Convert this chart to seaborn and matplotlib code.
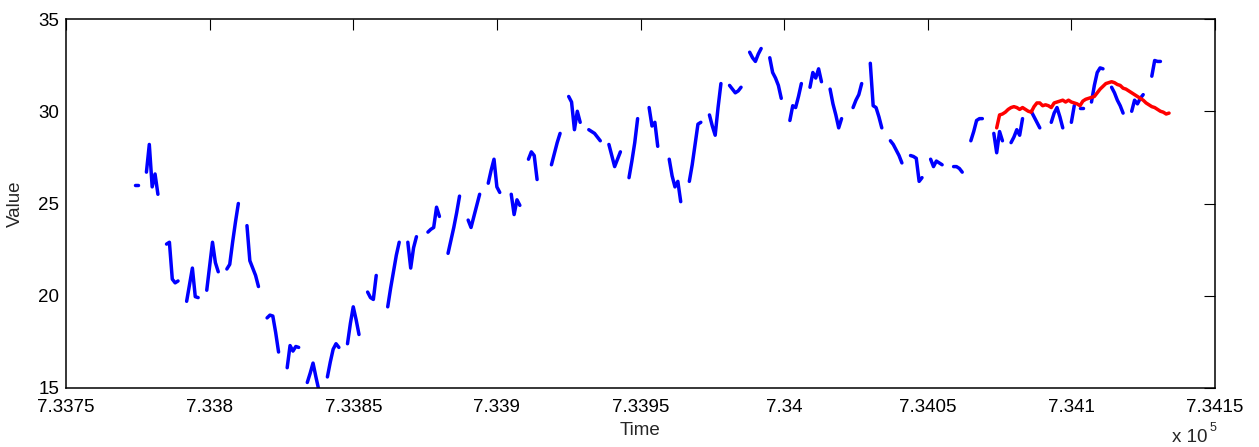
import numpy as np
import pandas as pd
import matplotlib
matplotlib.use("Agg")
import matplotlib.pyplot as plt
from matplotlib.ticker import MultipleLocator, FuncFormatter
import seaborn as sns

# Daily closing values (MATLAB datenum on the x axis), one list per trading week Mon..Fri.
# None marks a day without a quote.
first_monday = 733771
week_values = [
    [None, None, None, 26.0, 26.0],
    [26.7, 28.2, 25.9, 26.6, 25.5],
    [22.8, 22.9, 20.9, 20.7, 20.8],
    [19.7, 20.6, 21.5, 19.95, 19.9],
    [20.3, 21.6, 22.9, 21.8, 21.3],
    [21.45, 21.7, 22.9, 24.0, 25.0],
    [23.8, 21.9, 21.5, 21.1, 20.5],
    [18.8, 18.95, 18.9, 18.0, 16.95],
    [16.1, 17.3, 17.0, 17.25, 17.2],
    [15.3, 15.8, 16.35, 15.6, 14.9],
    [15.6, 16.4, 17.1, 17.4, 17.2],
    [17.4, 18.5, 19.4, 18.7, 17.9],
    [20.2, 19.9, 19.8, 21.1, None],
    [19.4, 20.4, 21.3, 22.2, 22.9],
    [22.9, 21.5, 22.6, 23.2, None],
    [23.45, 23.6, 23.7, 24.8, 24.3],
    [22.3, 23.0, 23.7, 24.5, 25.4],
    [24.1, 23.7, 24.3, 24.9, 25.5],
    [26.1, 26.8, 27.4, 25.9, 25.6],
    [None, 25.5, 24.4, 25.2, 24.9],
    [27.4, 27.8, 27.6, 26.3, None],
    [None, 27.1, 27.7, 28.3, 28.8],
    [30.8, 30.5, 29.0, 30.0, 29.4],
    [29.0, 28.9, 28.8, 28.6, 28.4],
    [28.2, 27.6, 27.0, 27.4, 27.8],
    [26.4, 27.3, 28.3, 29.6, None],
    [30.2, 29.2, 29.4, 28.1, None],
    [27.4, 26.5, 25.9, 26.2, 25.1],
    [26.2, 27.1, 28.2, 29.3, 29.4],
    [29.8, 29.2, 28.7, 30.2, 31.5],
    [31.4, 31.2, 31.0, 31.1, 31.3],
    [33.2, 32.9, 32.7, 33.1, 33.4],
    [32.9, 32.1, 31.8, 31.4, 30.7],
    [29.5, 30.3, 30.2, 30.8, 31.5],
    [31.3, 32.1, 31.8, 32.3, 31.6],
    [31.2, 30.4, 29.8, 29.1, 29.6],
    [None, 30.2, 30.6, 30.9, 31.5],
    [32.6, 30.3, 30.2, 29.7, 29.1],
    [28.4, 28.2, 27.9, 27.6, 27.2],
    [27.6, 27.55, 27.45, 26.2, 26.4],
    [27.4, 27.0, 27.3, 27.2, 27.1],
    [None, 27.0, 27.0, 26.9, 26.7],
    [28.4, 28.9, 29.5, 29.6, 29.6],
    [None, 28.8, 27.75, 28.9, 28.4],
    [28.3, 28.6, 29.0, 28.7, 29.6],
    [30.0, 29.7, 29.4, 29.1, None],
    [29.4, 29.9, 30.2, 29.7, 29.1],
    [29.4, 30.3, None, 30.2, 30.2],
    [30.5, 31.4, 32.1, 32.35, 32.3],
    [31.3, 31.0, 30.6, 30.3, 29.9],
    [30.0, 30.6, 30.4, 30.7, 30.9],
    [31.9, 32.75, 32.7, 32.7, None],
]

# Daily forecast path
forecast_start = 734074
forecast_values = [
    29.1, 29.8, 29.85, 29.95, 30.1, 30.2, 30.25, 30.2, 30.1, 30.2,
    30.1, 30.0, 29.95, 30.25, 30.45, 30.45, 30.3, 30.35, 30.3, 30.2,
    30.45, 30.5, 30.55, 30.6, 30.5, 30.6, 30.5, 30.45, 30.4, 30.3,
    30.55, 30.65, 30.7, 30.75, 30.8, 31.0, 31.2, 31.35, 31.5, 31.55,
    31.6, 31.55, 31.45, 31.4, 31.25, 31.2, 31.1, 31.0, 30.9, 30.8,
    30.7, 30.6, 30.45, 30.35, 30.25, 30.2, 30.1, 30.0, 29.95, 29.85,
    29.9,
]

# Split the history into contiguous runs so that gaps stay open
rows = []
run = 0
for k, week in enumerate(week_values):
    monday = first_monday + 7 * k
    open_run = False
    for d, v in enumerate(week):
        if v is None:
            open_run = False
            continue
        if not open_run:
            run += 1
            open_run = True
        rows.append((monday + d, v, run))
history = pd.DataFrame(rows, columns=["Time", "Value", "run"])
forecast = pd.DataFrame({
    "Time": forecast_start + np.arange(len(forecast_values)),
    "Value": forecast_values,
})

sns.set_style("white")
plt.rcParams["font.family"] = ["Liberation Sans", "DejaVu Sans"]

W, H = 1259, 447
fig = plt.figure(figsize=(W / 100, H / 100), dpi=100)
ax = fig.add_axes([66 / W, 1 - 388 / H, (1215 - 66) / W, (388 - 19) / H])

sns.lineplot(data=history, x="Time", y="Value", units="run", estimator=None,
             color="#0000ff", lw=2.5, ax=ax, legend=False,
             solid_capstyle="round", solid_joinstyle="round")
sns.lineplot(data=forecast, x="Time", y="Value", estimator=None,
             color="#ff0000", lw=2.5, ax=ax, legend=False,
             solid_capstyle="round", solid_joinstyle="round")

ax.set_xlim(733750, 734150)
ax.set_ylim(15, 35)
ax.xaxis.set_major_locator(MultipleLocator(50))
ax.yaxis.set_major_locator(MultipleLocator(5))
ax.xaxis.set_major_formatter(FuncFormatter(lambda v, _: f"{v / 1e5:g}"))
ax.tick_params(direction="in", length=8, width=0.8, colors="black",
               top=True, right=True, labelsize=13.5)
ax.tick_params(axis="x", pad=8)
ax.tick_params(axis="y", pad=5)
for s in ax.spines.values():
    s.set_color("black")
    s.set_linewidth(1.1)

ax.set_xlabel("Time", fontsize=13.5, labelpad=4)
ax.set_ylabel("Value", fontsize=13.5, labelpad=10)

fig.text(1190 / W, 1 - 438 / H, "x 10", fontsize=13.5, ha="center", va="center")
fig.text(1213 / W, 1 - 428 / H, "5", fontsize=9, ha="center", va="center")

fig.savefig("out.png", dpi=100, facecolor="white")
